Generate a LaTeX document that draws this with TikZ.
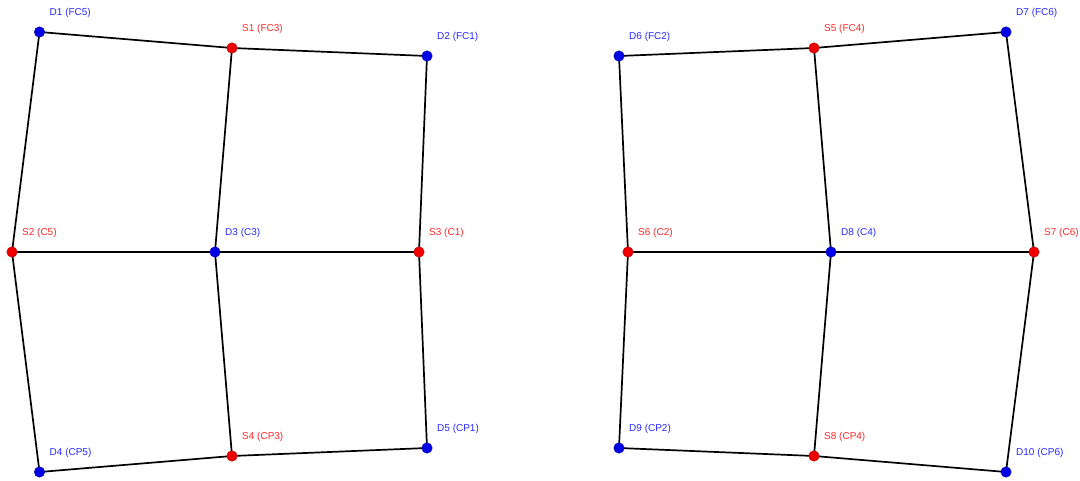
\documentclass[tikz,border=0pt]{standalone}
\usepackage{fontspec}
\setmainfont{Liberation Sans}
\definecolor{dblue}{RGB}{0,0,230}
\definecolor{dred}{RGB}{240,0,0}
\definecolor{lblue}{RGB}{40,40,255}
\definecolor{lred}{RGB}{255,40,40}
\begin{document}
\begin{tikzpicture}[x=1pt,y=-1pt,
  dnode/.style={circle,fill=dblue,draw=dblue!70!black,line width=0.4pt,inner sep=0pt,minimum size=10.5pt},
  snode/.style={circle,fill=dred,draw=dred!70!black,line width=0.4pt,inner sep=0pt,minimum size=10.5pt},
  dlab/.style={anchor=west,text=lblue,font=\fontsize{10}{12}\selectfont,inner sep=0pt},
  slab/.style={anchor=west,text=lred,font=\fontsize{10}{12}\selectfont,inner sep=0pt},
  edge/.style={line width=1.7pt,black}]
\useasboundingbox (0,0) rectangle (1080,481);
% left grid
\coordinate (cD1) at (39.5,32); \coordinate (cS1) at (232,48); \coordinate (cD2) at (427,56);
\coordinate (cS2) at (12,252); \coordinate (cD3) at (215,252); \coordinate (cS3) at (419,252);
\coordinate (cD4) at (39.5,472); \coordinate (cS4) at (232,456); \coordinate (cD5) at (427,448);
% right grid
\coordinate (cD6) at (619,56); \coordinate (cS5) at (814,48); \coordinate (cD7) at (1006,32);
\coordinate (cS6) at (628,252); \coordinate (cD8) at (831,252); \coordinate (cS7) at (1034,252);
\coordinate (cD9) at (619,448); \coordinate (cS8) at (814,456); \coordinate (cD10) at (1006,472);
% edges
\foreach \a/\b in {D1/S1,S1/D2,S2/D3,D3/S3,D4/S4,S4/D5,D1/S2,S2/D4,S1/D3,D3/S4,D2/S3,S3/D5,
  D6/S5,S5/D7,S6/D8,D8/S7,D9/S8,S8/D10,D6/S6,S6/D9,S5/D8,D8/S8,D7/S7,S7/D10}
  \draw[edge] (c\a) -- (c\b);
% nodes
\foreach \n/\l in {D1/FC5,D2/FC1,D3/C3,D4/CP5,D5/CP1,D6/FC2,D7/FC6,D8/C4,D9/CP2,D10/CP6}{
  \node[dnode] (\n) at (c\n) {};
  \node[dlab] (\n lab) at ([shift={(10,-19)}]c\n) {\n{} (\l)};
}
\foreach \n/\l in {S1/FC3,S2/C5,S3/C1,S4/CP3,S5/FC4,S6/C2,S7/C6,S8/CP4}{
  \node[snode] (\n) at (c\n) {};
  \node[slab] (\n lab) at ([shift={(10,-19)}]c\n) {\n{} (\l)};
}
\end{tikzpicture}
\end{document}
